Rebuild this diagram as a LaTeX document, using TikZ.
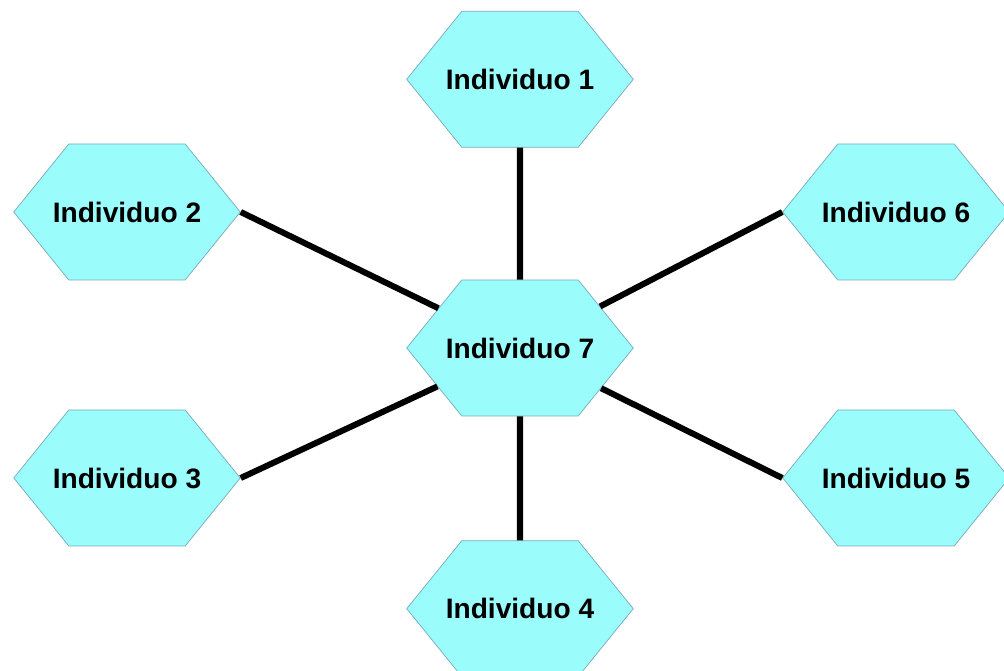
\documentclass[tikz,border=0pt]{standalone}
\usepackage{fontspec}
\setmainfont{Liberation Sans}
\usetikzlibrary{shapes,positioning}

\definecolor{hexfill}{RGB}{155,252,252}
\definecolor{hexline}{RGB}{120,170,185}

\begin{document}
\begin{tikzpicture}[node distance=3.2cm,
    hex/.style={signal, signal to=east and west, signal pointer angle=102,
      draw=hexline, fill=hexfill, line width=0.5pt,
      minimum height=3.4cm, inner xsep=-0.4cm, inner ysep=0pt,
      font=\fontsize{20}{24}\selectfont\bfseries},
    link/.style={line width=4.3pt, black}]
      \useasboundingbox (-13,-8.075) rectangle (12.1,8.7);
      \clip (-13,-8.075) rectangle (12.1,8.7);

      \node[hex] (7) at (0,0) {Individuo 7};
      \node[hex] (1) [above=3.3cm of 7] {Individuo 1};
      \node[hex] (4) [below=3.1cm of 7] {Individuo 4};
      \node[hex] (2) at (-9.825,3.4) {Individuo 2};
      \node[hex] (3) at (-9.825,-3.25) {Individuo 3};
      \node[hex] (6) at (9.4,3.4) {Individuo 6};
      \node[hex] (5) at (9.4,-3.25) {Individuo 5};

      \draw[link] (1) edge [] (7);
      \draw[link] (4) edge [] (7);
      \draw[link] (2.east) edge [] (7);
      \draw[link] (3.east) edge [] (7);
      \draw[link] (6.west) edge [] (7);
      \draw[link] (5.west) edge [] (7);
\end{tikzpicture}
\end{document}
